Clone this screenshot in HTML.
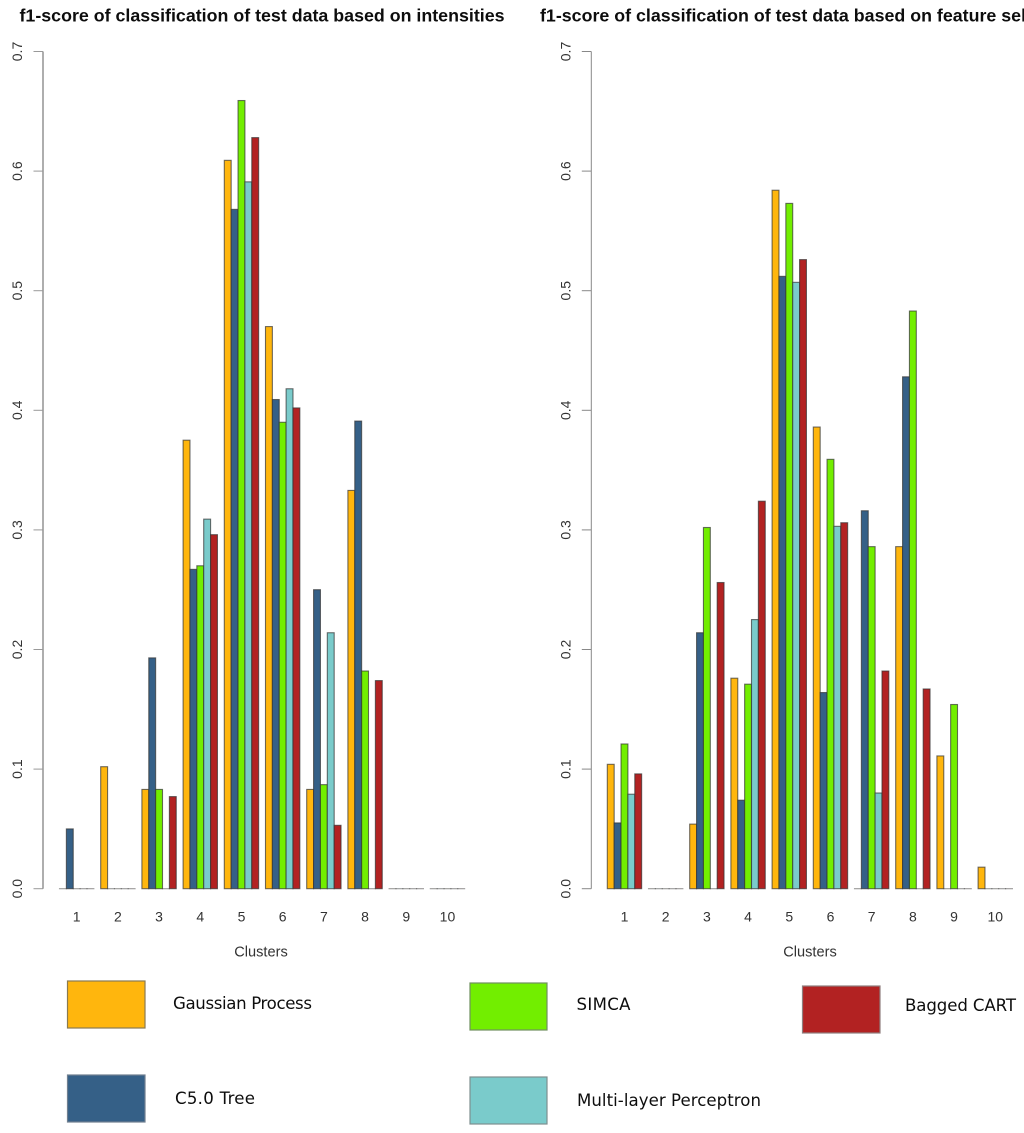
<!DOCTYPE html>
<html>
<head>
<meta charset="utf-8">
<title>f1-score of classification</title>
<style>
html,body{margin:0;padding:0;background:#fff;width:1024px;height:1133px;overflow:hidden}
svg{display:block}
text{font-family:"Liberation Sans",sans-serif}
.legend-text{font-family:"DejaVu Sans",sans-serif;font-size:16.6px;fill:#111}
</style>
</head>
<body>
<svg id="root" xmlns="http://www.w3.org/2000/svg" width="1024" height="1133" viewBox="0 0 1024 1133">
  <defs><filter id="soft" x="-5%" y="-5%" width="110%" height="110%"><feGaussianBlur stdDeviation="0.35"/></filter></defs>
  <g id="charts" filter="url(#soft)"></g>
  <g id="legend" filter="url(#soft)">
    <g>
      <rect x="67.5" y="981" width="77.5" height="47" fill="#FFB60F" stroke="#8a7a50" stroke-width="1.2"/>
      <text class="legend-text" x="173" y="1009" textLength="139" lengthAdjust="spacing">Gaussian Process</text>
    </g>
    <g>
      <rect x="67.5" y="1075" width="77.5" height="47" fill="#366187" stroke="#6f7f8f" stroke-width="1.2"/>
      <text class="legend-text" x="175" y="1104" textLength="80" lengthAdjust="spacing">C5.0 Tree</text>
    </g>
    <g>
      <rect x="470" y="983" width="77" height="47" fill="#72EE00" stroke="#6f8f5f" stroke-width="1.2"/>
      <text class="legend-text" x="576.5" y="1010" textLength="54" lengthAdjust="spacing">SIMCA</text>
    </g>
    <g>
      <rect x="470" y="1077" width="77" height="47" fill="#7ACBCB" stroke="#7f8f8f" stroke-width="1.2"/>
      <text class="legend-text" x="577" y="1106" textLength="184" lengthAdjust="spacing">Multi-layer Perceptron</text>
    </g>
    <g>
      <rect x="802.5" y="986" width="77.5" height="47" fill="#B22222" stroke="#8f7f7f" stroke-width="1.2"/>
      <text class="legend-text" x="905" y="1011" textLength="111" lengthAdjust="spacing">Bagged CART</text>
    </g>
  </g>
</svg>
<script>
var clusters = ['1','2','3','4','5','6','7','8','9','10'];
var yTicks = [0, 0.1, 0.2, 0.3, 0.4, 0.5, 0.6, 0.7];
var yTickLabels = ['0.0','0.1','0.2','0.3','0.4','0.5','0.6','0.7'];
var methods = ['gaussian-process','c50-tree','simca','multi-layer-perceptron','bagged-cart'];

var leftGaussian = [0, 0.102, 0.083, 0.375, 0.609, 0.470, 0.083, 0.333, 0, 0];
var leftC50      = [0.050, 0, 0.193, 0.267, 0.568, 0.409, 0.250, 0.391, 0, 0];
var leftSimca    = [0, 0, 0.083, 0.270, 0.659, 0.390, 0.087, 0.182, 0, 0];
var leftMlp      = [0, 0, 0, 0.309, 0.591, 0.418, 0.214, 0, 0, 0];
var leftBagged   = [0, 0, 0.077, 0.296, 0.628, 0.402, 0.053, 0.174, 0, 0];

var rightGaussian = [0.104, 0, 0.054, 0.176, 0.584, 0.386, 0, 0.286, 0.111, 0.018];
var rightC50      = [0.055, 0, 0.214, 0.074, 0.512, 0.164, 0.316, 0.428, 0, 0];
var rightSimca    = [0.121, 0, 0.302, 0.171, 0.573, 0.359, 0.286, 0.483, 0.154, 0];
var rightMlp      = [0.079, 0, 0, 0.225, 0.507, 0.303, 0.080, 0, 0, 0];
var rightBagged   = [0.096, 0, 0.256, 0.324, 0.526, 0.306, 0.182, 0.167, 0, 0];

var leftTitle = 'f1-score of classification of test data based on intensities';
var rightTitle = 'f1-score of classification of test data based on feature selection';
var xTitle = 'Clusters';

var SVGNS = 'http://www.w3.org/2000/svg';
var colors = ['#FFB60F', '#366187', '#72EE00', '#7ACBCB', '#B22222'];
var y0 = 888.7, yTop = 51.5, yMax = 0.7, unit = 6.87, groupStep = 41.2;

function yScale(v) { return y0 - (v / yMax) * (y0 - yTop); }

function mk(parent, tag, attrs, txt) {
  var el = document.createElementNS(SVGNS, tag);
  for (var k in attrs) el.setAttribute(k, attrs[k]);
  if (txt !== undefined) el.textContent = txt;
  parent.appendChild(el);
  return el;
}

function drawChart(prefix, series, title, cfg) {
  var root = document.getElementById('charts');
  var g = mk(root, 'g', {});
  
  

  var t = mk(g, 'text', {x: cfg.titleX, y: 21.5, 'font-size': 17.82, 'font-weight': 'bold', fill: '#111'}, title);
  
  

  var axis = mk(g, 'line', {x1: cfg.axisX, x2: cfg.axisX, y1: yScale(yTicks[0]), y2: yScale(yTicks[yTicks.length - 1]), stroke: cfg.axisColor, 'stroke-width': cfg.axisWidth});
  
  

  yTicks.forEach(function (v, i) {
    var tick = mk(g, 'line', {x1: cfg.axisX - 9.5, x2: cfg.axisX, y1: yScale(v), y2: yScale(v), stroke: cfg.axisColor, 'stroke-width': 1});
    
    
    var lx = cfg.axisX - 21, ly = yScale(v);
    var lab = mk(g, 'text', {x: lx, y: ly, 'font-size': 14, fill: '#333', 'text-anchor': 'middle', transform: 'rotate(-90 ' + lx + ' ' + ly + ')'}, yTickLabels[i]);
    
    
  });

  clusters.forEach(function (c, gi) {
    var gx = cfg.barsX + gi * groupStep;
    series.forEach(function (vals, si) {
      var v = vals[gi];
      var top = yScale(v);
      var bar = mk(g, 'rect', {x: gx + si * unit, y: top, width: unit, height: Math.max(y0 - top, 0.01), fill: colors[si], stroke: '#333', 'stroke-width': 1.1, 'stroke-opacity': v === 0 ? 0.5 : 0.7});
      
      
    });
    var lab = mk(g, 'text', {x: gx + 2.5 * unit, y: 921.5, 'font-size': 14, fill: '#333', 'text-anchor': 'middle'}, c);
    
    
  });

  var xt = mk(g, 'text', {x: cfg.xTitleX, y: 956.5, 'font-size': 14.6, fill: '#333', 'text-anchor': 'middle'}, xTitle);
  
  
}

drawChart('left', [leftGaussian, leftC50, leftSimca, leftMlp, leftBagged], leftTitle,
  {titleX: 19.5, axisX: 43, axisColor: '#999', axisWidth: 1.6, barsX: 59.5, xTitleX: 261});
drawChart('right', [rightGaussian, rightC50, rightSimca, rightMlp, rightBagged], rightTitle,
  {titleX: 540, axisX: 591.3, axisColor: '#888', axisWidth: 1, barsX: 607.3, xTitleX: 810});
</script>
</body>
</html>
